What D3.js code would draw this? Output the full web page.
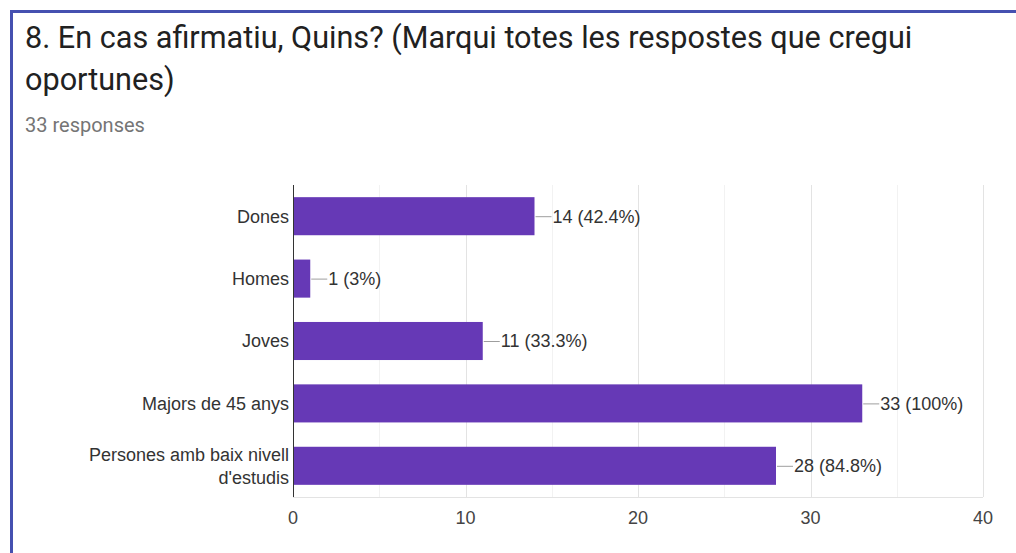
<!DOCTYPE html>
<html>
<head>
<meta charset="utf-8">
<script src="https://cdn.jsdelivr.net/npm/d3@7"></script>
<style>
  html, body { margin: 0; padding: 0; background: #fff; }
  svg { display: block; }
</style>
</head>
<body>
<svg id="chart" width="1016" height="553"></svg>
<script>
// Survey question 8: who is affected (multiple answers allowed)
const titleLines = [
  "8. En cas afirmatiu, Quins? (Marqui totes les respostes que cregui",
  "oportunes)"
];
const subtitle = "33 responses";
const categories = [
  ["Dones"],
  ["Homes"],
  ["Joves"],
  ["Majors de 45 anys"],
  ["Persones amb baix nivell", "d'estudis"]
];
const counts = [14, 1, 11, 33, 28];
const percents = ["42.4%", "3%", "33.3%", "100%", "84.8%"];
const majorTicks = [0, 10, 20, 30, 40];
const minorTicks = [5, 15, 25, 35];

const svg = d3.select("#chart");

// card frame (top and left accent borders)
svg.append("line").attr("x1", 10).attr("x2", 1016).attr("y1", 11.5).attr("y2", 11.5)
  .attr("stroke", "#4550b0").attr("stroke-width", 3);
svg.append("line").attr("x1", 11.5).attr("x2", 11.5).attr("y1", 10).attr("y2", 553)
  .attr("stroke", "#4550b0").attr("stroke-width", 3);

// heading
svg.append("g").selectAll("text").data(titleLines).join("text")
  .attr("x", 25).attr("y", (d, i) => 48 + i * 42)
  .attr("font-family", "Roboto, 'Noto Sans', sans-serif")
  .attr("font-size", 30.6).attr("fill", "#212121")
  .text(d => d);
svg.append("text").attr("x", 25).attr("y", 132)
  .attr("font-family", "Roboto, 'Noto Sans', sans-serif")
  .attr("font-size", 20).attr("fill", "#757575")
  .text(subtitle);

// plot area
const plotLeft = 293, plotRight = 983, plotTop = 185, plotBottom = 497;
const x = d3.scaleLinear().domain([0, 40]).range([plotLeft, plotRight]);
const y = d3.scaleBand().domain(d3.range(categories.length)).range([plotTop, plotBottom])
  .paddingInner(0.39).paddingOuter(0.195);

const font = "Arial, 'Liberation Sans', sans-serif";

// minor and major gridlines
svg.append("g").selectAll("line").data(minorTicks).join("line")
  .attr("x1", d => Math.round(x(d)) + 0.5).attr("x2", d => Math.round(x(d)) + 0.5)
  .attr("y1", plotTop).attr("y2", plotBottom).attr("stroke", "#f2f2f2");
svg.append("g").selectAll("line").data(majorTicks.slice(1)).join("line")
  .attr("x1", d => Math.round(x(d)) + 0.5).attr("x2", d => Math.round(x(d)) + 0.5)
  .attr("y1", plotTop).attr("y2", plotBottom).attr("stroke", "#e3e3e3");
svg.append("line").attr("x1", plotLeft).attr("x2", plotRight)
  .attr("y1", plotBottom + 0.5).attr("y2", plotBottom + 0.5).attr("stroke", "#e3e3e3");

// bars
svg.append("g").selectAll("rect").data(counts).join("rect")
  .attr("x", x(0)).attr("y", (d, i) => y(i))
  .attr("width", d => x(d) - x(0)).attr("height", y.bandwidth())
  .attr("fill", "#6639b6");

// value annotations with leader lines
const ann = svg.append("g").selectAll("g").data(counts).join("g");
ann.append("line")
  .attr("x1", d => x(d) + 1).attr("x2", d => x(d) + 17)
  .attr("y1", (d, i) => y(i) + y.bandwidth() / 2 + 0.5)
  .attr("y2", (d, i) => y(i) + y.bandwidth() / 2 + 0.5)
  .attr("stroke", "#9e9e9e");
ann.append("text")
  .attr("x", d => x(d) + 18)
  .attr("y", (d, i) => y(i) + y.bandwidth() / 2)
  .attr("dy", "0.35em")
  .attr("font-family", font).attr("font-size", 18).attr("fill", "#333")
  .text((d, i) => `${d} (${percents[i]})`);

// category axis
svg.append("line").attr("x1", plotLeft + 0.5).attr("x2", plotLeft + 0.5)
  .attr("y1", plotTop).attr("y2", plotBottom).attr("stroke", "#333");
const cat = svg.append("g").selectAll("text").data(categories).join("text")
  .attr("text-anchor", "end")
  .attr("font-family", font).attr("font-size", 18).attr("fill", "#333");
cat.each(function (lines, i) {
  const cy = y(i) + y.bandwidth() / 2;
  const lh = 23;
  d3.select(this).selectAll("tspan").data(lines).join("tspan")
    .attr("x", plotLeft - 4)
    .attr("y", (l, j) => cy + (j - (lines.length - 1) / 2) * lh)
    .attr("dy", "0.35em")
    .text(l => l);
});

// value axis ticks
svg.append("g").selectAll("text").data(majorTicks).join("text")
  .attr("x", d => x(d)).attr("y", 518).attr("dy", "0.35em")
  .attr("text-anchor", "middle")
  .attr("font-family", font).attr("font-size", 18).attr("fill", "#444")
  .text(d => d);
</script>
</body>
</html>
